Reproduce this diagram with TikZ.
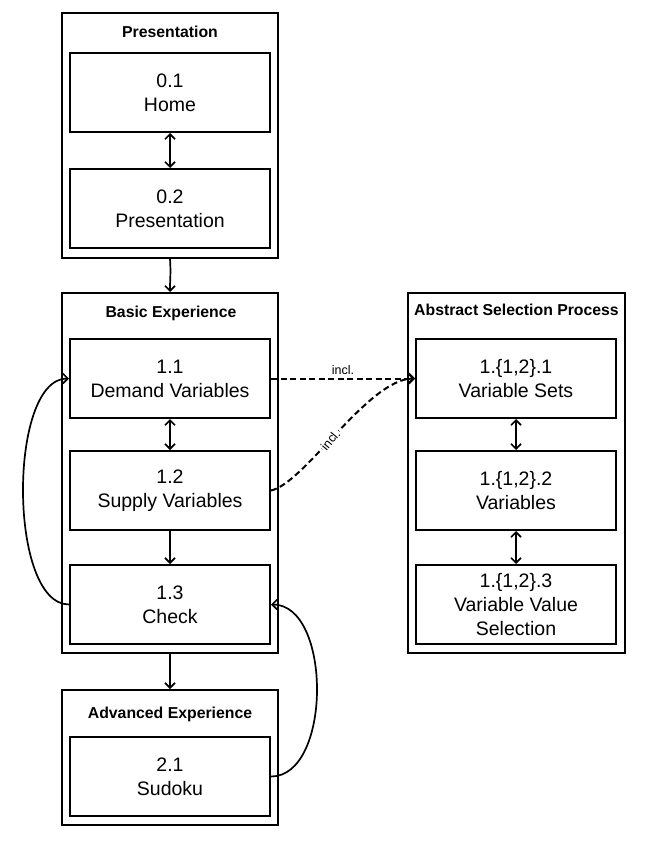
\documentclass[tikz,border=0pt]{standalone}
\usepackage{fontspec}
\setmainfont{Liberation Sans}
\usetikzlibrary{arrows.meta}
\begin{document}
\begin{tikzpicture}[x=1pt,y=-1pt,
  stepbox/.style={draw, line width=2pt, minimum width=200pt, minimum height=79pt,
    inner sep=0pt, align=center, font=\fontsize{19.5}{24}\selectfont},
  groupbox/.style={draw, line width=2pt, inner sep=0pt},
  grouptitle/.style={font=\fontsize{15.8}{19}\selectfont\bfseries, inner sep=0pt},
  flow/.style={line width=1.7pt, -{Straight Barb[length=5pt,width=10pt]}},
  biflow/.style={line width=1.7pt, {Straight Barb[length=5pt,width=10pt]}-{Straight Barb[length=5pt,width=10pt]}},
  incl/.style={line width=2pt, dash pattern=on 6pt off 3.5pt, -{Straight Barb[length=5pt,width=10pt]}},
  incllabel/.style={font=\fontsize{12.5}{14}\selectfont, inner sep=1pt}
]
\fill[white] (0,0) rectangle (667,850);
\useasboundingbox (0,0) rectangle (667,850);

% group frames
\node[groupbox, minimum width=216pt, minimum height=245pt] (gpres) at (170,135.5) {};
\node[groupbox, minimum width=216pt, minimum height=360pt] (gbasic) at (170,473) {};
\node[groupbox, minimum width=216pt, minimum height=135pt] (gadv) at (170,757.5) {};
\node[groupbox, minimum width=217pt, minimum height=360pt] (gasp) at (516.5,473) {};

% group titles
\node[grouptitle] (tpres) at (170,32) {Presentation};
\node[grouptitle] (tbasic) at (171,313) {Basic Experience};
\node[grouptitle] (tadv) at (170,714) {Advanced Experience};
\node[grouptitle] (tasp) at (516.5,310) {Abstract Selection Process};

% steps
\node[stepbox] (home) at (170,92.5) {0.1\\Home};
\node[stepbox] (pres) at (170,208.5) {0.2\\Presentation};
\node[stepbox] (n11) at (170,378.5) {1.1\\Demand Variables};
\node[stepbox] (n12) at (170,490.5) {1.2\\Supply Variables};
\node[stepbox] (n13) at (170,604.5) {1.3\\Check};
\node[stepbox] (n21) at (170,776.5) {2.1\\Sudoku};
\node[stepbox] (a1) at (516,378.5) {1.\{1,2\}.1\\Variable Sets};
\node[stepbox] (a2) at (516,490.5) {1.\{1,2\}.2\\Variables};
\node[stepbox] (a3) at (516,604.5) {1.\{1,2\}.3\\Variable Value\\Selection};

% connectors
\draw[biflow] (home) -- (pres);
\draw[flow] (gpres.south) .. controls +(1,15) and +(0,-15) .. (gbasic.north);
\draw[biflow] (n11) -- (n12);
\draw[flow] (n12.south) .. controls +(0,15) and +(0,-15) .. (n13.north);
\draw[flow] (gbasic.south) .. controls +(0,15) and +(0,-15) .. (gadv.north);
\draw[flow] (n13.west) .. controls +(-61,0) and +(-61,0) .. (n11.west);
\draw[flow] (n21.east) .. controls +(61,0) and +(61,0) .. (n13.east);
\draw[biflow] (a1) -- (a2);
\draw[biflow] (a2) -- (a3);

% inclusion links
\draw[incl] (n11.east) -- node[incllabel, above=2pt] {incl.} (a1.west);
\draw[incl] (n12.east) .. controls (305,483) and (368,379) .. (a1.west)
  node[incllabel, pos=0.45, fill=white, rotate=50] {incl.};
\end{tikzpicture}
\end{document}
